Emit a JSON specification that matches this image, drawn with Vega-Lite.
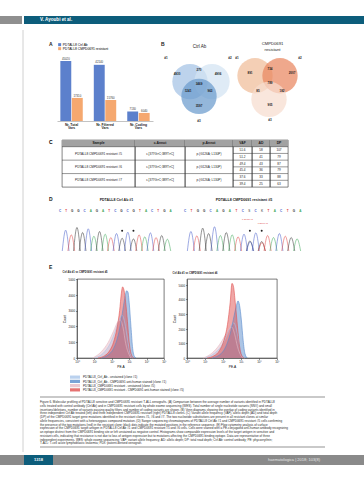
{
"$schema": "https://vega.github.io/schema/vega-lite/v6.json",
"padding": {"left": 0, "top": 16, "right": 0, "bottom": 0},
"background": "#ffffff",
"spacing": 0,
"config": {
  "font": "Liberation Sans",
  "view": {"stroke": null},
  "concat": {"spacing": 0},
  "title": {"font": "Liberation Sans", "color": "#222222"},
  "text": {"font": "Liberation Sans"}
},
"vconcat": [
 {"hconcat": [
   {"width": 22, "height": 8, "data": {"values": [{}]}, "mark": {"type": "rect", "color": "#8f8f8f"}, "encoding": {"x": {"value": 0}, "x2": {"value": "width"}, "y": {"value": 0}, "y2": {"value": "height"}}},
   {"width": 340, "height": 8, "data": {"values": [{}]}, "layer": [
     {"mark": {"type": "rect", "color": "#0d5d7b"}, "encoding": {"x": {"value": 0}, "x2": {"value": "width"}, "y": {"value": 0}, "y2": {"value": "height"}}},
     {"mark": {"type": "text", "text": "V. Ayoubi et al.", "color": "#ffffff", "fontSize": 4.6, "fontWeight": "bold", "align": "left", "baseline": "middle"}, "encoding": {"x": {"value": 16}, "y": {"value": 4}}}
   ]}
 ], "spacing": 2, "bounds": "flush"},
 {"hconcat": [
   {"width": 24, "height": 431, "data": {"values": [{}]}, "mark": {"type": "rule", "color": "#c4c4c4", "strokeWidth": 0.8}, "encoding": {"x": {"value": 23}, "y": {"value": 6}, "y2": {"value": 428}}},
   {"vconcat": [
     {"width": 1, "height": 18, "data": {"values": [{}]}, "mark": {"type": "text", "text": "", "fontSize": 0.1}, "encoding": {}},
     {"hconcat": [
       {"width": 33, "height": 64, "title": {"text": "A", "anchor": "start", "dx": 25, "offset": 10, "fontSize": 5, "fontWeight": "bold"}, "data": {"values": [{}]}, "mark": {"type": "text", "text": "", "fontSize": 0.1}, "encoding": {}},
       {"width": 96, "height": 64,
        "data": {"values": [
          {"cat": "Nr. Total Vars", "grp": "PDTALL8 Ctrl Ab", "n": 45020},
          {"cat": "Nr. Total Vars", "grp": "PDTALL8 CMPD0691 resistant", "n": 17310},
          {"cat": "Nr. Filtered Vars", "grp": "PDTALL8 Ctrl Ab", "n": 42140},
          {"cat": "Nr. Filtered Vars", "grp": "PDTALL8 CMPD0691 resistant", "n": 15760},
          {"cat": "Nr. Coding Vars", "grp": "PDTALL8 Ctrl Ab", "n": 7130},
          {"cat": "Nr. Coding Vars", "grp": "PDTALL8 CMPD0691 resistant", "n": 6040}
        ]},
        "encoding": {
          "x": {"field": "cat", "type": "nominal", "sort": null, "scale": {"paddingInner": 0.33, "paddingOuter": 0.1},
                "axis": {"title": null, "labelAngle": 0, "labelFontSize": 3.4, "labelFontWeight": "bold", "labelColor": "#222222", "labelPadding": 1.2, "ticks": false, "domainColor": "#9a9a9a", "domainWidth": 0.6, "labelLineHeight": 3.8,
                         "labelExpr": "[slice(datum.label, 0, lastindexof(datum.label, ' ')), slice(datum.label, lastindexof(datum.label, ' ') + 1)]"}},
          "xOffset": {"field": "grp", "type": "nominal", "scale": {"domain": ["PDTALL8 Ctrl Ab", "PDTALL8 CMPD0691 resistant"], "paddingInner": 0.05}},
          "y": {"field": "n", "type": "quantitative", "scale": {"domain": [0, 48000]}, "axis": null}
        },
        "layer": [
          {"mark": {"type": "bar"}, "encoding": {"color": {"field": "grp", "type": "nominal", "scale": {"domain": ["PDTALL8 Ctrl Ab", "PDTALL8 CMPD0691 resistant"], "range": ["#5c80cc", "#f5a86f"]},
             "legend": {"orient": "none", "legendX": 1, "legendY": -14, "title": null, "symbolType": "square", "symbolSize": 9, "labelFontSize": 3.3, "rowPadding": -1.8, "labelOffset": 1.5, "padding": 0, "labelLimit": 300, "symbolStrokeWidth": 0}}}},
          {"mark": {"type": "text", "fontSize": 2.8, "baseline": "bottom", "dy": -0.8, "color": "#333333"}, "encoding": {"text": {"field": "n", "type": "quantitative", "format": "d"}}}
        ]},
       {"width": 14, "height": 64, "title": {"text": "B", "anchor": "start", "dx": 8, "offset": 10, "fontSize": 5, "fontWeight": "bold"}, "data": {"values": [{}]}, "mark": {"type": "text", "text": "", "fontSize": 0.1}, "encoding": {}},
       {"width": 65, "height": 64,
        "title": {"text": "Ctrl Ab", "fontSize": 4.5, "fontWeight": "normal", "offset": 8},
        "layer": [
          {"data": {"values": [{"set": "#1", "cx": 2.3, "cy": 2.5}, {"set": "#2", "cx": 4.5, "cy": 2.5}, {"set": "#3", "cx": 3.2, "cy": 4.0}]},
           "mark": {"type": "point", "filled": true, "size": 1250, "opacity": 0.72, "strokeWidth": 0.5},
           "encoding": {"x": {"field": "cx", "type": "quantitative", "scale": {"domain": [0, 6.5]}, "axis": null},
                        "y": {"field": "cy", "type": "quantitative", "scale": {"domain": [0, 6.4], "reverse": true}, "axis": null},
                        "color": {"field": "set", "type": "nominal", "scale": {"domain": ["#1", "#2", "#3"], "range": ["#a3c2e4", "#d3e3f3", "#6b9bcd"]}, "legend": null}}},
          {"data": {"values": [
             {"lab": "4930", "cx": 1.0, "cy": 1.7}, {"lab": "270", "cx": 3.2, "cy": 1.3}, {"lab": "4906", "cx": 5.1, "cy": 1.7},
             {"lab": "3469", "cx": 3.2, "cy": 2.7}, {"lab": "1241", "cx": 2.1, "cy": 3.4}, {"lab": "963", "cx": 4.3, "cy": 3.4},
             {"lab": "3597", "cx": 3.2, "cy": 4.9}, {"lab": "#1", "cx": -0.1, "cy": 0.1}, {"lab": "#2", "cx": 6.3, "cy": 0.1}, {"lab": "#3", "cx": 3.2, "cy": 6.5}]},
           "mark": {"type": "text", "fontSize": 3, "fontWeight": "bold", "color": "#1b1b1b"},
           "encoding": {"x": {"field": "cx", "type": "quantitative"}, "y": {"field": "cy", "type": "quantitative"}, "text": {"field": "lab"}}}
        ]},
       {"width": 8, "height": 64, "data": {"values": [{}]}, "mark": {"type": "text", "text": "", "fontSize": 0.1}, "encoding": {}},
       {"width": 65, "height": 64,
        "title": {"text": ["CMPD0691", "resistant"], "fontSize": 4.2, "fontWeight": "normal", "offset": 5, "lineHeight": 5.5},
        "layer": [
          {"data": {"values": [{"set": "#1", "cx": 1.5, "cy": 1.9}, {"set": "#2", "cx": 4.0, "cy": 1.9}, {"set": "#3", "cx": 2.9, "cy": 4.3}]},
           "mark": {"type": "point", "filled": true, "size": 1250, "opacity": 0.72, "strokeWidth": 0.5},
           "encoding": {"x": {"field": "cx", "type": "quantitative", "scale": {"domain": [0, 6.5]}, "axis": null},
                        "y": {"field": "cy", "type": "quantitative", "scale": {"domain": [0, 6.4], "reverse": true}, "axis": null},
                        "color": {"field": "set", "type": "nominal", "scale": {"domain": ["#1", "#2", "#3"], "range": ["#f0bc98", "#e98660", "#f7ddce"]}, "legend": null}}},
          {"data": {"values": [
             {"lab": "891", "cx": 1.0, "cy": 1.6}, {"lab": "734", "cx": 3.0, "cy": 1.2}, {"lab": "2007", "cx": 5.2, "cy": 1.6},
             {"lab": "789", "cx": 3.0, "cy": 2.6}, {"lab": "85", "cx": 1.8, "cy": 3.4}, {"lab": "182", "cx": 4.2, "cy": 3.4},
             {"lab": "905", "cx": 3.0, "cy": 4.8}, {"lab": "#1", "cx": -0.3, "cy": 0.1}, {"lab": "#2", "cx": 6.0, "cy": 0.1}, {"lab": "#3", "cx": 3.0, "cy": 6.4}]},
           "mark": {"type": "text", "fontSize": 3, "fontWeight": "bold", "color": "#1b1b1b"},
           "encoding": {"x": {"field": "cx", "type": "quantitative"}, "y": {"field": "cy", "type": "quantitative"}, "text": {"field": "lab"}}}
        ]}
     ], "spacing": 0, "bounds": "flush", "resolve": {"scale": {"color": "independent"}, "legend": {"color": "independent"}}},
     {"width": 1, "height": 9, "data": {"values": [{}]}, "mark": {"type": "text", "text": "", "fontSize": 0.1}, "encoding": {}},
     {"hconcat": [
       {"width": 38, "height": 47, "data": {"values": [{}]}, "mark": {"type": "text", "text": "C", "fontSize": 5, "fontWeight": "bold", "align": "left", "baseline": "top"}, "encoding": {"x": {"value": 25}, "y": {"value": 0}}},
       {"width": 73, "height": 47, "view": {"stroke": "#333333", "strokeWidth": 0.6},
        "data": {"values": [
          {"r": "h", "k": "head", "t": "Sample"},
          {"r": "r1a", "k": "cell", "t": "PDTALL8 CMPD0691 resistant #5"},
          {"r": "r2a", "k": "cell", "t": "PDTALL8 CMPD0691 resistant #6"},
          {"r": "r3a", "k": "cell", "t": "PDTALL8 CMPD0691 resistant #7"},
          {"r": "r1a", "k": "line"}, {"r": "r2a", "k": "line"}, {"r": "r3a", "k": "line"}]},
        "encoding": {"y": {"field": "r", "type": "nominal", "scale": {"domain": ["h", "r1a", "r1b", "r2a", "r2b", "r3a", "r3b"], "paddingInner": 0, "paddingOuter": 0}, "axis": null}},
        "layer": [
          {"transform": [{"filter": "datum.k == 'head'"}], "mark": {"type": "rect", "color": "#a2a2a2"}, "encoding": {"x": {"value": 0}, "x2": {"value": "width"}}},
          {"transform": [{"filter": "datum.k == 'line'"}], "mark": {"type": "rule", "color": "#333333", "strokeWidth": 0.5}, "encoding": {"y": {"field": "r", "type": "nominal", "bandPosition": 0, "axis": null}}},
          {"transform": [{"filter": "datum.k == 'head'"}], "mark": {"type": "text", "fontSize": 3.4, "fontWeight": "bold", "color": "#1a1a1a"}, "encoding": {"text": {"field": "t"}}},
          {"transform": [{"filter": "datum.k == 'cell'"}], "mark": {"type": "text", "fontSize": 3.1, "color": "#1a1a1a"}, "encoding": {"text": {"field": "t"}, "y": {"field": "r", "type": "nominal", "bandPosition": 1, "axis": null}}}
        ]},
       {"width": 50, "height": 47, "view": {"stroke": "#333333", "strokeWidth": 0.6},
        "data": {"values": [
          {"r": "h", "k": "head", "t": "c.Annot"},
          {"r": "r1a", "k": "cell", "t": "c.[377G>C;389T>C]"},
          {"r": "r2a", "k": "cell", "t": "c.[377G>C;389T>C]"},
          {"r": "r3a", "k": "cell", "t": "c.[377G>C;389T>C]"},
          {"r": "r1a", "k": "line"}, {"r": "r2a", "k": "line"}, {"r": "r3a", "k": "line"}]},
        "encoding": {"y": {"field": "r", "type": "nominal", "scale": {"domain": ["h", "r1a", "r1b", "r2a", "r2b", "r3a", "r3b"], "paddingInner": 0, "paddingOuter": 0}, "axis": null}},
        "layer": [
          {"transform": [{"filter": "datum.k == 'head'"}], "mark": {"type": "rect", "color": "#a2a2a2"}, "encoding": {"x": {"value": 0}, "x2": {"value": "width"}}},
          {"transform": [{"filter": "datum.k == 'line'"}], "mark": {"type": "rule", "color": "#333333", "strokeWidth": 0.5}, "encoding": {"y": {"field": "r", "type": "nominal", "bandPosition": 0, "axis": null}}},
          {"transform": [{"filter": "datum.k == 'head'"}], "mark": {"type": "text", "fontSize": 3.4, "fontWeight": "bold", "color": "#1a1a1a"}, "encoding": {"text": {"field": "t"}}},
          {"transform": [{"filter": "datum.k == 'cell'"}], "mark": {"type": "text", "fontSize": 3.1, "color": "#1a1a1a"}, "encoding": {"text": {"field": "t"}, "y": {"field": "r", "type": "nominal", "bandPosition": 1, "axis": null}}}
        ]},
       {"width": 48, "height": 47, "view": {"stroke": "#333333", "strokeWidth": 0.6},
        "data": {"values": [
          {"r": "h", "k": "head", "t": "p.Annot"},
          {"r": "r1a", "k": "cell", "t": "p.(G126A; L130P)"},
          {"r": "r2a", "k": "cell", "t": "p.(G126A; L130P)"},
          {"r": "r3a", "k": "cell", "t": "p.(G126A; L130P)"},
          {"r": "r1a", "k": "line"}, {"r": "r2a", "k": "line"}, {"r": "r3a", "k": "line"}]},
        "encoding": {"y": {"field": "r", "type": "nominal", "scale": {"domain": ["h", "r1a", "r1b", "r2a", "r2b", "r3a", "r3b"], "paddingInner": 0, "paddingOuter": 0}, "axis": null}},
        "layer": [
          {"transform": [{"filter": "datum.k == 'head'"}], "mark": {"type": "rect", "color": "#a2a2a2"}, "encoding": {"x": {"value": 0}, "x2": {"value": "width"}}},
          {"transform": [{"filter": "datum.k == 'line'"}], "mark": {"type": "rule", "color": "#333333", "strokeWidth": 0.5}, "encoding": {"y": {"field": "r", "type": "nominal", "bandPosition": 0, "axis": null}}},
          {"transform": [{"filter": "datum.k == 'head'"}], "mark": {"type": "text", "fontSize": 3.4, "fontWeight": "bold", "color": "#1a1a1a"}, "encoding": {"text": {"field": "t"}}},
          {"transform": [{"filter": "datum.k == 'cell'"}], "mark": {"type": "text", "fontSize": 3.1, "color": "#1a1a1a"}, "encoding": {"text": {"field": "t"}, "y": {"field": "r", "type": "nominal", "bandPosition": 1, "axis": null}}}
        ]},
       {"width": 19, "height": 47, "view": {"stroke": "#333333", "strokeWidth": 0.6},
        "data": {"values": [
          {"r": "h", "k": "head", "t": "VAF"},
          {"r": "r1a", "k": "num", "t": "51.6"}, {"r": "r1b", "k": "num", "t": "51.2"},
          {"r": "r2a", "k": "num", "t": "49.4"}, {"r": "r2b", "k": "num", "t": "45.4"},
          {"r": "r3a", "k": "num", "t": "37.6"}, {"r": "r3b", "k": "num", "t": "39.4"},
          {"r": "r1a", "k": "line"}, {"r": "r2a", "k": "line"}, {"r": "r3a", "k": "line"},
          {"r": "r1b", "k": "line"}, {"r": "r2b", "k": "line"}, {"r": "r3b", "k": "line"}]},
        "encoding": {"y": {"field": "r", "type": "nominal", "scale": {"domain": ["h", "r1a", "r1b", "r2a", "r2b", "r3a", "r3b"], "paddingInner": 0, "paddingOuter": 0}, "axis": null}},
        "layer": [
          {"transform": [{"filter": "datum.k == 'head'"}], "mark": {"type": "rect", "color": "#a2a2a2"}, "encoding": {"x": {"value": 0}, "x2": {"value": "width"}}},
          {"transform": [{"filter": "datum.k == 'line'"}], "mark": {"type": "rule", "color": "#333333", "strokeWidth": 0.5}, "encoding": {"y": {"field": "r", "type": "nominal", "bandPosition": 0, "axis": null}}},
          {"transform": [{"filter": "datum.k == 'head'"}], "mark": {"type": "text", "fontSize": 3.4, "fontWeight": "bold", "color": "#1a1a1a"}, "encoding": {"text": {"field": "t"}}},
          {"transform": [{"filter": "datum.k == 'num'"}], "mark": {"type": "text", "fontSize": 3.1, "color": "#1a1a1a"}, "encoding": {"text": {"field": "t"}}}
        ]},
       {"width": 18, "height": 47, "view": {"stroke": "#333333", "strokeWidth": 0.6},
        "data": {"values": [
          {"r": "h", "k": "head", "t": "AD"},
          {"r": "r1a", "k": "num", "t": "58"}, {"r": "r1b", "k": "num", "t": "41"},
          {"r": "r2a", "k": "num", "t": "43"}, {"r": "r2b", "k": "num", "t": "36"},
          {"r": "r3a", "k": "num", "t": "33"}, {"r": "r3b", "k": "num", "t": "25"},
          {"r": "r1a", "k": "line"}, {"r": "r2a", "k": "line"}, {"r": "r3a", "k": "line"},
          {"r": "r1b", "k": "line"}, {"r": "r2b", "k": "line"}, {"r": "r3b", "k": "line"}]},
        "encoding": {"y": {"field": "r", "type": "nominal", "scale": {"domain": ["h", "r1a", "r1b", "r2a", "r2b", "r3a", "r3b"], "paddingInner": 0, "paddingOuter": 0}, "axis": null}},
        "layer": [
          {"transform": [{"filter": "datum.k == 'head'"}], "mark": {"type": "rect", "color": "#a2a2a2"}, "encoding": {"x": {"value": 0}, "x2": {"value": "width"}}},
          {"transform": [{"filter": "datum.k == 'line'"}], "mark": {"type": "rule", "color": "#333333", "strokeWidth": 0.5}, "encoding": {"y": {"field": "r", "type": "nominal", "bandPosition": 0, "axis": null}}},
          {"transform": [{"filter": "datum.k == 'head'"}], "mark": {"type": "text", "fontSize": 3.4, "fontWeight": "bold", "color": "#1a1a1a"}, "encoding": {"text": {"field": "t"}}},
          {"transform": [{"filter": "datum.k == 'num'"}], "mark": {"type": "text", "fontSize": 3.1, "color": "#1a1a1a"}, "encoding": {"text": {"field": "t"}}}
        ]},
       {"width": 18, "height": 47, "view": {"stroke": "#333333", "strokeWidth": 0.6},
        "data": {"values": [
          {"r": "h", "k": "head", "t": "DP"},
          {"r": "r1a", "k": "num", "t": "107"}, {"r": "r1b", "k": "num", "t": "79"},
          {"r": "r2a", "k": "num", "t": "87"}, {"r": "r2b", "k": "num", "t": "79"},
          {"r": "r3a", "k": "num", "t": "88"}, {"r": "r3b", "k": "num", "t": "63"},
          {"r": "r1a", "k": "line"}, {"r": "r2a", "k": "line"}, {"r": "r3a", "k": "line"},
          {"r": "r1b", "k": "line"}, {"r": "r2b", "k": "line"}, {"r": "r3b", "k": "line"}]},
        "encoding": {"y": {"field": "r", "type": "nominal", "scale": {"domain": ["h", "r1a", "r1b", "r2a", "r2b", "r3a", "r3b"], "paddingInner": 0, "paddingOuter": 0}, "axis": null}},
        "layer": [
          {"transform": [{"filter": "datum.k == 'head'"}], "mark": {"type": "rect", "color": "#a2a2a2"}, "encoding": {"x": {"value": 0}, "x2": {"value": "width"}}},
          {"transform": [{"filter": "datum.k == 'line'"}], "mark": {"type": "rule", "color": "#333333", "strokeWidth": 0.5}, "encoding": {"y": {"field": "r", "type": "nominal", "bandPosition": 0, "axis": null}}},
          {"transform": [{"filter": "datum.k == 'head'"}], "mark": {"type": "text", "fontSize": 3.4, "fontWeight": "bold", "color": "#1a1a1a"}, "encoding": {"text": {"field": "t"}}},
          {"transform": [{"filter": "datum.k == 'num'"}], "mark": {"type": "text", "fontSize": 3.1, "color": "#1a1a1a"}, "encoding": {"text": {"field": "t"}}}
        ]}
     ], "spacing": 0, "bounds": "flush"},
     {"width": 1, "height": 9, "data": {"values": [{}]}, "mark": {"type": "text", "text": "", "fontSize": 0.1}, "encoding": {}},
     {"hconcat": [
       {"width": 36, "height": 6, "title": {"text": "D", "anchor": "start", "dx": 25, "offset": 6, "fontSize": 5, "fontWeight": "bold"}, "data": {"values": [{}]}, "mark": {"type": "text", "text": "", "fontSize": 0.1}, "encoding": {}},
       {"width": 113, "height": 6, "title": {"text": "PDTALL8 Ctrl Ab #1", "fontSize": 3.6, "fontWeight": "bold", "offset": 6},
        "data": {"values": [{"p": 1, "b": "C"}, {"p": 2, "b": "T"}, {"p": 3, "b": "G"}, {"p": 4, "b": "G"}, {"p": 5, "b": "C"}, {"p": 6, "b": "A"}, {"p": 7, "b": "G"}, {"p": 8, "b": "A"}, {"p": 9, "b": "T"}, {"p": 10, "b": "C"}, {"p": 11, "b": "G"}, {"p": 12, "b": "C"}, {"p": 13, "b": "G"}, {"p": 14, "b": "T"}, {"p": 15, "b": "A"}, {"p": 16, "b": "C"}, {"p": 17, "b": "T"}, {"p": 18, "b": "G"}, {"p": 19, "b": "A"}]},
        "mark": {"type": "text", "fontSize": 3, "fontWeight": "bold"},
        "encoding": {"x": {"field": "p", "type": "quantitative", "scale": {"domain": [1, 19.4]}, "axis": null}, "text": {"field": "b"},
                     "color": {"field": "b", "type": "nominal", "scale": {"domain": ["A", "C", "G", "T", "S", "K"], "range": ["#3aa655", "#4056c8", "#2b2b2b", "#e0413f", "#777777", "#777777"]}, "legend": null}}},
       {"width": 12, "height": 6, "data": {"values": [{}]}, "mark": {"type": "text", "text": "", "fontSize": 0.1}, "encoding": {}},
       {"width": 118, "height": 6, "title": {"text": "PDTALL8 CMPD0691 resistant #5", "fontSize": 3.6, "fontWeight": "bold", "offset": 6},
        "data": {"values": [{"p": 1, "b": "C"}, {"p": 2, "b": "T"}, {"p": 3, "b": "G"}, {"p": 4, "b": "G"}, {"p": 5, "b": "C"}, {"p": 6, "b": "A"}, {"p": 7, "b": "G"}, {"p": 8, "b": "A"}, {"p": 9, "b": "T"}, {"p": 10, "b": "C"}, {"p": 11, "b": "S"}, {"p": 12, "b": "C"}, {"p": 13, "b": "K"}, {"p": 14, "b": "T"}, {"p": 15, "b": "A"}, {"p": 16, "b": "C"}, {"p": 17, "b": "T"}, {"p": 18, "b": "G"}, {"p": 19, "b": "A"}]},
        "mark": {"type": "text", "fontSize": 3, "fontWeight": "bold"},
        "encoding": {"x": {"field": "p", "type": "quantitative", "scale": {"domain": [1, 19.4]}, "axis": null}, "text": {"field": "b"},
                     "color": {"field": "b", "type": "nominal", "scale": {"domain": ["A", "C", "G", "T", "S", "K"], "range": ["#3aa655", "#4056c8", "#2b2b2b", "#e0413f", "#777777", "#777777"]}, "legend": null}}}
     ], "spacing": 0, "bounds": "flush", "resolve": {"scale": {"color": "independent"}, "legend": {"color": "independent"}}},
     {"hconcat": [
       {"width": 36, "height": 37, "data": {"values": [{}]}, "mark": {"type": "text", "text": "", "fontSize": 0.1}, "encoding": {}},
       {"width": 113, "height": 37,
        "layer": [
          {"data": {"values": [
             {"k": "L1", "b": "C", "x": [0.4, 1, 1.6], "y": [0, 62, 0]},
             {"k": "L2", "b": "T", "x": [1.4, 2, 2.6], "y": [0, 48, 0]},
             {"k": "L3", "b": "G", "x": [2.4, 3, 3.6], "y": [0, 70, 0]},
             {"k": "L4", "b": "G", "x": [3.4, 4, 4.6], "y": [0, 55, 0]},
             {"k": "L5", "b": "C", "x": [4.4, 5, 5.6], "y": [0, 66, 0]},
             {"k": "L6", "b": "A", "x": [5.4, 6, 6.6], "y": [0, 44, 0]},
             {"k": "L7", "b": "G", "x": [6.4, 7, 7.6], "y": [0, 58, 0]},
             {"k": "L8", "b": "A", "x": [7.4, 8, 8.6], "y": [0, 50, 0]},
             {"k": "L9", "b": "T", "x": [8.4, 9, 9.6], "y": [0, 40, 0]},
             {"k": "L10", "b": "C", "x": [9.4, 10, 10.6], "y": [0, 52, 0]},
             {"k": "L11", "b": "G", "x": [10.4, 11, 11.6], "y": [0, 38, 0]},
             {"k": "L12", "b": "C", "x": [11.4, 12, 12.6], "y": [0, 56, 0]},
             {"k": "L13", "b": "G", "x": [12.4, 13, 13.6], "y": [0, 36, 0]},
             {"k": "L14", "b": "T", "x": [13.4, 14, 14.6], "y": [0, 48, 0]},
             {"k": "L15", "b": "A", "x": [14.4, 15, 15.6], "y": [0, 42, 0]},
             {"k": "L16", "b": "C", "x": [15.4, 16, 16.6], "y": [0, 54, 0]},
             {"k": "L17", "b": "T", "x": [16.4, 17, 17.6], "y": [0, 40, 0]},
             {"k": "L18", "b": "G", "x": [17.4, 18, 18.6], "y": [0, 46, 0]},
             {"k": "L19", "b": "A", "x": [18.4, 19, 19.6], "y": [0, 35, 0]}]},
           "transform": [{"flatten": ["x", "y"]}],
           "mark": {"type": "line", "interpolate": "monotone", "strokeWidth": 0.6, "opacity": 0.85},
           "encoding": {"x": {"field": "x", "type": "quantitative", "scale": {"domain": [1, 19.4]}, "axis": null},
                        "y": {"field": "y", "type": "quantitative", "scale": {"domain": [0, 110]}, "axis": null},
                        "color": {"field": "b", "type": "nominal", "scale": {"domain": ["A", "C", "G", "T"], "range": ["#3aa655", "#4056c8", "#2b2b2b", "#e0413f"]}, "legend": null},
                        "detail": {"field": "k"}}},
          {"data": {"values": [{"x": 11, "y": 60}, {"x": 13, "y": 60}]},
           "mark": {"type": "point", "filled": true, "size": 4, "color": "#222222", "opacity": 1},
           "encoding": {"x": {"field": "x", "type": "quantitative"}, "y": {"field": "y", "type": "quantitative"}}}
        ]},
       {"width": 12, "height": 37, "data": {"values": [{}]}, "mark": {"type": "text", "text": "", "fontSize": 0.1}, "encoding": {}},
       {"width": 118, "height": 37,
        "layer": [
          {"data": {"values": [
             {"k": "R1", "b": "C", "x": [0.4, 1, 1.6], "y": [0, 58, 0]},
             {"k": "R2", "b": "T", "x": [1.4, 2, 2.6], "y": [0, 45, 0]},
             {"k": "R3", "b": "G", "x": [2.4, 3, 3.6], "y": [0, 68, 0]},
             {"k": "R4", "b": "G", "x": [3.4, 4, 4.6], "y": [0, 52, 0]},
             {"k": "R5", "b": "C", "x": [4.4, 5, 5.6], "y": [0, 72, 0]},
             {"k": "R6", "b": "A", "x": [5.4, 6, 6.6], "y": [0, 46, 0]},
             {"k": "R7", "b": "G", "x": [6.4, 7, 7.6], "y": [0, 55, 0]},
             {"k": "R8", "b": "A", "x": [7.4, 8, 8.6], "y": [0, 48, 0]},
             {"k": "R9", "b": "T", "x": [8.4, 9, 9.6], "y": [0, 42, 0]},
             {"k": "R10", "b": "C", "x": [9.4, 10, 10.6], "y": [0, 50, 0]},
             {"k": "R11", "b": "G", "x": [10.4, 11, 11.6], "y": [0, 30, 0]},
             {"k": "R11b", "b": "C", "x": [10.45, 11.05, 11.65], "y": [0, 27, 0]},
             {"k": "R12", "b": "C", "x": [11.4, 12, 12.6], "y": [0, 54, 0]},
             {"k": "R13", "b": "G", "x": [12.4, 13, 13.6], "y": [0, 28, 0]},
             {"k": "R13b", "b": "T", "x": [12.45, 13.05, 13.65], "y": [0, 25, 0]},
             {"k": "R14", "b": "T", "x": [13.4, 14, 14.6], "y": [0, 46, 0]},
             {"k": "R15", "b": "A", "x": [14.4, 15, 15.6], "y": [0, 40, 0]},
             {"k": "R16", "b": "C", "x": [15.4, 16, 16.6], "y": [0, 52, 0]},
             {"k": "R17", "b": "T", "x": [16.4, 17, 17.6], "y": [0, 44, 0]},
             {"k": "R18", "b": "G", "x": [17.4, 18, 18.6], "y": [0, 40, 0]},
             {"k": "R19", "b": "A", "x": [18.4, 19, 19.6], "y": [0, 36, 0]}]},
           "transform": [{"flatten": ["x", "y"]}],
           "mark": {"type": "line", "interpolate": "monotone", "strokeWidth": 0.6, "opacity": 0.85},
           "encoding": {"x": {"field": "x", "type": "quantitative", "scale": {"domain": [1, 19.4]}, "axis": null},
                        "y": {"field": "y", "type": "quantitative", "scale": {"domain": [0, 110]}, "axis": null},
                        "color": {"field": "b", "type": "nominal", "scale": {"domain": ["A", "C", "G", "T"], "range": ["#3aa655", "#4056c8", "#2b2b2b", "#e0413f"]}, "legend": null},
                        "detail": {"field": "k"}}},
          {"data": {"values": [{"x": 11, "y": 60}, {"x": 13, "y": 60}]},
           "mark": {"type": "point", "filled": true, "size": 4, "color": "#222222", "opacity": 1},
           "encoding": {"x": {"field": "x", "type": "quantitative"}, "y": {"field": "y", "type": "quantitative"}}},
          {"data": {"values": [{"x": 10.6, "y": 94, "t": "c.377G>C"}, {"x": 13.2, "y": 82, "t": "c.389T>C"}]},
           "mark": {"type": "text", "fontSize": 2.4, "color": "#e0413f"},
           "encoding": {"x": {"field": "x", "type": "quantitative"}, "y": {"field": "y", "type": "quantitative"}, "text": {"field": "t"}}}
        ]}
     ], "spacing": 0, "bounds": "flush", "resolve": {"scale": {"color": "independent"}, "legend": {"color": "independent"}}},
     {"width": 1, "height": 12, "data": {"values": [{}]}, "mark": {"type": "text", "text": "", "fontSize": 0.1}, "encoding": {}},
     {"hconcat": [
       {"width": 53, "height": 79, "title": {"text": "E", "anchor": "start", "dx": 25, "offset": 9, "fontSize": 5, "fontWeight": "bold"}, "data": {"values": [{}]}, "mark": {"type": "text", "text": "", "fontSize": 0.1}, "encoding": {}},
       {"width": 87, "height": 79, "view": {"stroke": "#222222", "strokeWidth": 0.6},
        "title": {"text": "Ctrl Ab #1 vs CMPD0691 resistant #5", "anchor": "start", "fontSize": 2.6, "fontWeight": "bold", "offset": 4},
        "data": {"values": [
          {"s": "PDTALL8_Ctrl_Ab - unstained (clone #1)", "v": [10, 32, 79, 158, 282, 398, 562, 794, 1122, 1585], "c": [0, 300, 900, 1700, 2500, 2700, 2200, 1200, 300, 0]},
          {"s": "PDTALL8_CMPD0691 resistant - unstained (clone #5)", "v": [8, 25, 63, 126, 224, 316, 447, 631, 1000, 1259], "c": [0, 400, 1000, 1700, 2300, 2400, 1900, 900, 200, 0]},
          {"s": "PDTALL8_Ctrl_Ab - CMPD0691 anti-human stained (clone #1)", "v": [25, 63, 126, 251, 398, 562, 708, 832, 1000, 1259, 1585, 1995, 2512], "c": [0, 200, 600, 1600, 2800, 3800, 4250, 4200, 3500, 2000, 600, 100, 0]},
          {"s": "PDTALL8_CMPD0691 resistant - CMPD0691 anti-human stained (clone #5)", "v": [16, 40, 79, 126, 200, 282, 355, 417, 501, 631, 794, 1000, 1259, 1778], "c": [0, 150, 500, 1000, 1900, 3000, 4100, 4500, 4300, 3500, 2300, 1000, 300, 0]}
        ]},
        "transform": [{"flatten": ["v", "c"]}],
        "mark": {"type": "area", "opacity": 0.5, "interpolate": "monotone", "line": {"strokeWidth": 0.6}},
        "encoding": {
          "x": {"field": "v", "type": "quantitative", "scale": {"type": "log", "domain": [1, 100000]},
                "axis": {"values": [1, 10, 100, 1000, 10000, 100000], "labelExpr": "'10' + ['⁰','¹','²','³','⁴','⁵'][round(log(datum.value)/LN10)]", "title": "PE-A", "labelFontSize": 3, "titleFontSize": 3.2, "titleFontWeight": "normal", "tickSize": 1.5, "tickWidth": 0.5, "domainWidth": 0.5, "labelPadding": 0.8, "titlePadding": 1, "grid": false, "domainColor": "#222222", "tickColor": "#222222", "labelColor": "#222222", "labelFlush": false}},
          "y": {"field": "c", "type": "quantitative", "stack": null, "scale": {"domain": [0, 5000]},
                "axis": {"values": [0, 1000, 2000, 3000, 4000, 5000], "format": "d", "title": "Count", "labelFontSize": 3, "titleFontSize": 3.2, "titleFontWeight": "normal", "tickSize": 1.5, "tickWidth": 0.5, "domainWidth": 0.5, "labelPadding": 0.8, "titlePadding": 1.5, "grid": false, "domainColor": "#222222", "tickColor": "#222222", "labelColor": "#222222"}},
          "color": {"field": "s", "type": "nominal",
                    "scale": {"domain": ["PDTALL8_Ctrl_Ab - unstained (clone #1)", "PDTALL8_Ctrl_Ab - CMPD0691 anti-human stained (clone #1)", "PDTALL8_CMPD0691 resistant - unstained (clone #5)", "PDTALL8_CMPD0691 resistant - CMPD0691 anti-human stained (clone #5)"], "range": ["#a9c5ea", "#5a8ccc", "#e6bac5", "#e0504f"]},
                    "legend": null}
        }},
       {"width": 23, "height": 79, "data": {"values": [{}]}, "mark": {"type": "text", "text": "", "fontSize": 0.1}, "encoding": {}},
       {"width": 90, "height": 79, "view": {"stroke": "#222222", "strokeWidth": 0.6},
        "title": {"text": "Ctrl Ab #1 vs CMPD0691 resistant #6", "anchor": "start", "fontSize": 2.6, "fontWeight": "bold", "offset": 4},
        "data": {"values": [
          {"s": "PDTALL8_Ctrl_Ab - unstained (clone #1)", "v": [10, 32, 79, 158, 282, 398, 562, 794, 1122, 1585], "c": [0, 300, 800, 1500, 2200, 2400, 1900, 1000, 250, 0]},
          {"s": "PDTALL8_CMPD0691 resistant - unstained (clone #5)", "v": [8, 25, 63, 126, 224, 316, 447, 631, 1000, 1259], "c": [0, 350, 900, 1500, 2000, 2100, 1600, 800, 150, 0]},
          {"s": "PDTALL8_Ctrl_Ab - CMPD0691 anti-human stained (clone #1)", "v": [25, 79, 158, 282, 417, 562, 676, 832, 1047, 1318, 1660, 2239], "c": [0, 300, 900, 1900, 2900, 3600, 3900, 3600, 2600, 1200, 300, 0]},
          {"s": "PDTALL8_CMPD0691 resistant - CMPD0691 anti-human stained (clone #5)", "v": [13, 32, 63, 112, 178, 251, 316, 380, 479, 631, 794, 1000, 1413], "c": [0, 150, 500, 1200, 2300, 3800, 5100, 4900, 3800, 2200, 1000, 300, 0]}
        ]},
        "transform": [{"flatten": ["v", "c"]}],
        "mark": {"type": "area", "opacity": 0.5, "interpolate": "monotone", "line": {"strokeWidth": 0.6}},
        "encoding": {
          "x": {"field": "v", "type": "quantitative", "scale": {"type": "log", "domain": [1, 100000]},
                "axis": {"values": [1, 10, 100, 1000, 10000, 100000], "labelExpr": "'10' + ['⁰','¹','²','³','⁴','⁵'][round(log(datum.value)/LN10)]", "title": "PE-A", "labelFontSize": 3, "titleFontSize": 3.2, "titleFontWeight": "normal", "tickSize": 1.5, "tickWidth": 0.5, "domainWidth": 0.5, "labelPadding": 0.8, "titlePadding": 1, "grid": false, "domainColor": "#222222", "tickColor": "#222222", "labelColor": "#222222", "labelFlush": false}},
          "y": {"field": "c", "type": "quantitative", "stack": null, "scale": {"domain": [0, 5400]},
                "axis": {"values": [0, 1000, 2000, 3000, 4000, 5000], "format": "d", "title": "Count", "labelFontSize": 3, "titleFontSize": 3.2, "titleFontWeight": "normal", "tickSize": 1.5, "tickWidth": 0.5, "domainWidth": 0.5, "labelPadding": 0.8, "titlePadding": 1.5, "grid": false, "domainColor": "#222222", "tickColor": "#222222", "labelColor": "#222222"}},
          "color": {"field": "s", "type": "nominal",
                    "scale": {"domain": ["PDTALL8_Ctrl_Ab - unstained (clone #1)", "PDTALL8_Ctrl_Ab - CMPD0691 anti-human stained (clone #1)", "PDTALL8_CMPD0691 resistant - unstained (clone #5)", "PDTALL8_CMPD0691 resistant - CMPD0691 anti-human stained (clone #5)"], "range": ["#a9c5ea", "#5a8ccc", "#e6bac5", "#e0504f"]},
                    "legend": null}
        }}
     ], "spacing": 0, "bounds": "flush", "resolve": {"scale": {"color": "independent"}, "legend": {"color": "independent"}}},
     {"width": 1, "height": 7, "data": {"values": [{}]}, "mark": {"type": "text", "text": "", "fontSize": 0.1}, "encoding": {}},
     {"hconcat": [
       {"width": 46, "height": 17, "data": {"values": [{}]}, "mark": {"type": "text", "text": "", "fontSize": 0.1}, "encoding": {}},
       {"width": 160, "height": 17,
        "data": {"values": [
          {"s": "PDTALL8_Ctrl_Ab - unstained (clone #1)"},
          {"s": "PDTALL8_Ctrl_Ab - CMPD0691 anti-human stained (clone #1)"},
          {"s": "PDTALL8_CMPD0691 resistant - unstained (clone #5)"},
          {"s": "PDTALL8_CMPD0691 resistant - CMPD0691 anti-human stained (clone #5)"}]},
        "encoding": {"y": {"field": "s", "type": "nominal", "scale": {"type": "point", "padding": 0.5, "domain": ["PDTALL8_Ctrl_Ab - unstained (clone #1)", "PDTALL8_Ctrl_Ab - CMPD0691 anti-human stained (clone #1)", "PDTALL8_CMPD0691 resistant - unstained (clone #5)", "PDTALL8_CMPD0691 resistant - CMPD0691 anti-human stained (clone #5)"]}, "axis": null}},
        "layer": [
          {"mark": {"type": "point", "shape": "M-1,-0.32H1V0.32H-1Z", "size": 100, "filled": true, "opacity": 0.8, "strokeWidth": 0.5},
           "encoding": {"x": {"value": 5}, "color": {"field": "s", "type": "nominal", "scale": {"domain": ["PDTALL8_Ctrl_Ab - unstained (clone #1)", "PDTALL8_Ctrl_Ab - CMPD0691 anti-human stained (clone #1)", "PDTALL8_CMPD0691 resistant - unstained (clone #5)", "PDTALL8_CMPD0691 resistant - CMPD0691 anti-human stained (clone #5)"], "range": ["#a9c5ea", "#5a8ccc", "#e6bac5", "#e0504f"]}, "legend": null}}},
          {"mark": {"type": "text", "align": "left", "baseline": "middle", "fontSize": 3, "color": "#222222"},
           "encoding": {"x": {"value": 13}, "text": {"field": "s"}}}
        ]}
     ], "spacing": 0, "bounds": "flush"},
     {"width": 1, "height": 4, "data": {"values": [{}]}, "mark": {"type": "text", "text": "", "fontSize": 0.1}, "encoding": {}},
     {"hconcat": [
       {"width": 16, "height": 50, "data": {"values": [{}]}, "mark": {"type": "text", "text": "", "fontSize": 0.1}, "encoding": {}},
       {"width": 285, "height": 50,
        "layer": [
          {"data": {"values": [{}]}, "mark": {"type": "rule", "color": "#666666", "strokeWidth": 0.7}, "encoding": {"x": {"value": 0}, "x2": {"value": "width"}, "y": {"value": 0}}},
          {"data": {"values": [{}]}, "mark": {"type": "rule", "color": "#666666", "strokeWidth": 0.7}, "encoding": {"x": {"value": 0}, "x2": {"value": "width"}, "y": {"value": "height"}}},
          {"data": {"values": [
             {"ln": 1, "t": "Figure 6. Molecular profiling of PDTALL8 sensitive and CMPD0691 resistant T-ALL xenografts. (A) Comparison between the average number of variants identified in PDTALL8"},
             {"ln": 2, "t": "cells treated with control antibody (Ctrl Ab) and in CMPD0691 resistant cells by whole exome sequencing (WES). Total number of single nucleotide variants (SNV) and small"},
             {"ln": 3, "t": "insertions/deletions, number of variants passing quality filters and number of coding variants are shown. (B) Venn diagrams showing the overlap of coding variants identified in"},
             {"ln": 4, "t": "three independent Ctrl Ab treated (left) and three independent CMPD0691 resistant (right) PDTALL8 clones. (C) Variant allele frequency (VAF), allelic depth (AD) and total depth"},
             {"ln": 5, "t": "(DP) of the CMPD0691 target gene mutations identified in the resistant clones #5, #6 and #7. The two nucleotide substitutions are present in all resistant clones at similar"},
             {"ln": 6, "t": "allele frequencies, consistent with a heterozygous compound mutation. (D) Sanger sequencing chromatograms of PDTALL8 Ctrl Ab #1 and CMPD0691 resistant #5 cells confirming"},
             {"ln": 7, "t": "the presence of the two mutations (red) in the resistant clone; black dots indicate the mutated positions in the reference sequence. (E) Flow cytometry analysis of surface"},
             {"ln": 8, "t": "expression of the CMPD0691 target antigen in PDTALL8 Ctrl Ab #1 and CMPD0691 resistant #5 and #6 cells. Cells were stained with a PE-conjugated anti-human antibody recognizing"},
             {"ln": 9, "t": "an epitope distinct from the CMPD0691 binding site or left unstained as negative control. Histograms show comparable expression levels of the target antigen in sensitive and"},
             {"ln": 10, "t": "resistant cells, indicating that resistance is not due to loss of antigen expression but to mutations affecting the CMPD0691 binding epitope. Data are representative of three"},
             {"ln": 11, "t": "independent experiments. WES: whole exome sequencing; VAF: variant allele frequency; AD: allelic depth; DP: total read depth; Ctrl Ab: control antibody; PE: phycoerythrin;"},
             {"ln": 12, "t": "T-ALL: T-cell acute lymphoblastic leukemia; PDX: patient-derived xenograft."}]},
           "mark": {"type": "text", "align": "left", "baseline": "middle", "fontSize": 3.05, "color": "#2a2a2a"},
           "encoding": {"x": {"value": 0}, "y": {"field": "ln", "type": "ordinal", "scale": {"type": "point", "range": [5, 46], "padding": 0}, "axis": null}, "text": {"field": "t"}}}
        ]}
     ], "spacing": 0, "bounds": "flush"}
   ], "spacing": 0, "resolve": {"scale": {"color": "independent"}, "legend": {"color": "independent"}}}
 ], "spacing": 0, "bounds": "flush"},
 {"hconcat": [
   {"width": 24, "height": 10, "data": {"values": [{}]}, "mark": {"type": "rect", "color": "#8a8a8a"}, "encoding": {"x": {"value": 0}, "x2": {"value": "width"}, "y": {"value": 0}, "y2": {"value": "height"}}},
   {"width": 29, "height": 10, "data": {"values": [{}]}, "layer": [
     {"mark": {"type": "rect", "color": "#0d5d7b"}, "encoding": {"x": {"value": 0}, "x2": {"value": "width"}, "y": {"value": 0}, "y2": {"value": "height"}}},
     {"mark": {"type": "text", "text": "1318", "color": "#ffffff", "fontSize": 4, "fontWeight": "bold", "baseline": "middle"}, "encoding": {}}
   ]},
   {"width": 311, "height": 10, "data": {"values": [{}]}, "layer": [
     {"mark": {"type": "rect", "color": "#8a8a8a"}, "encoding": {"x": {"value": 0}, "x2": {"value": "width"}, "y": {"value": 0}, "y2": {"value": "height"}}},
     {"mark": {"type": "text", "text": "haematologica | 2018; 103(8)", "color": "#e6e6e6", "fontSize": 4, "align": "right", "baseline": "middle"}, "encoding": {"x": {"value": 267}, "y": {"value": 5}}}
   ]}
 ], "spacing": 0, "bounds": "flush"}
]
}
